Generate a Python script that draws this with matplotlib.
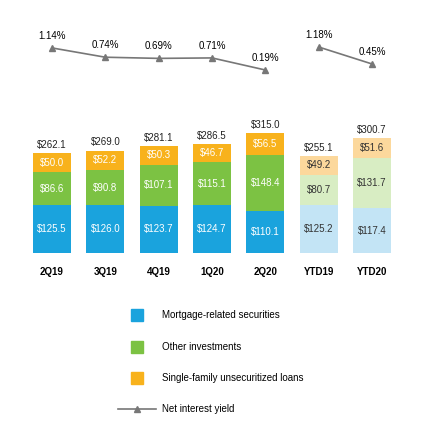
import matplotlib
matplotlib.use("Agg")
import matplotlib.pyplot as plt
from matplotlib.patches import Rectangle
from matplotlib.lines import Line2D

categories = ["2Q19", "3Q19", "4Q19", "1Q20", "2Q20", "YTD19", "YTD20"]
mortgage = [125.5, 126.0, 123.7, 124.7, 110.1, 125.2, 117.4]
other = [86.6, 90.8, 107.1, 115.1, 148.4, 80.7, 131.7]
single = [50.0, 52.2, 50.3, 46.7, 56.5, 49.2, 51.6]
totals = [262.1, 269.0, 281.1, 286.5, 315.0, 255.1, 300.7]
yields = [1.14, 0.74, 0.69, 0.71, 0.19, 1.18, 0.45]
series_names = ["Mortgage-related securities", "Other investments",
                "Single-family unsecuritized loans", "Net interest yield"]

W, H = 426, 445
fig = plt.figure(figsize=(W/100, H/100), dpi=100)
plt.rcParams['font.family'] = ['Liberation Sans', 'DejaVu Sans']

dark = ["#1aa3dd", "#7cc243", "#f8b21c"]
light = ["#c3e4f5", "#d8edc3", "#fcd89c"]
x_left, x_right = 20, 404
ax = fig.add_axes([x_left/W, (H-253)/H, (x_right-x_left)/W, 120/H])
ax.set_xlim(-0.6, 6.6)
ax.set_ylim(0, 315)
n = len(categories)
for i in range(n):
    cols = dark if i < 5 else light
    tc = "white" if i < 5 else "#333333"
    bottom = 0
    for val, c in zip([mortgage[i], other[i], single[i]], cols):
        ax.bar(i, val, bottom=bottom, width=0.71, color=c)
        ax.text(i, bottom + val/2, f"${val:.1f}", ha="center", va="center",
                color=tc, fontsize=7)
        bottom += val
    ax.text(i, totals[i] + 8, f"${totals[i]:.1f}", ha="center", va="bottom",
            fontsize=7, color="#222222")
ax.set_xticks(range(n))
ax.set_xticklabels(categories, fontsize=7, fontweight="bold")
ax.tick_params(length=0, pad=10)
for s in ["top", "right", "left", "bottom"]:
    ax.spines[s].set_visible(False)
ax.set_yticks([])

lax = fig.add_axes([x_left/W, (H-70)/H, (x_right-x_left)/W, 23/H])
lax.set_xlim(-0.6, 6.6)
lax.set_ylim(0.19, 1.18)
lax.axis("off")
lc = "#777777"
lax.plot(range(5), yields[:5], color=lc, marker="^", ms=4, lw=1.2, clip_on=False)
lax.plot([5, 6], yields[5:], color=lc, marker="^", ms=4, lw=1.2, clip_on=False)
for i, y in enumerate(yields):
    lax.annotate(f"{y:.2f}%", (i, y), xytext=(0, 5), textcoords="offset points",
                 ha="center", va="bottom", fontsize=7)

rows = [315, 347, 378, 409]
for k, (name, yy) in enumerate(zip(series_names, rows)):
    fy = (H - yy)/H
    if k < 3:
        fig.patches.append(Rectangle((131/W, fy - 6/H), 12/W, 12/H,
                                     color=dark[k], transform=fig.transFigure))
    else:
        fig.lines.append(Line2D([118/W, 137/W, 156/W], [fy, fy, fy], color=lc,
                                lw=1.2, marker="^", markevery=[1], ms=4,
                                transform=fig.transFigure))
    fig.text(162/W, fy, name, va="center", fontsize=7)

fig.savefig("out.png", dpi=100)
